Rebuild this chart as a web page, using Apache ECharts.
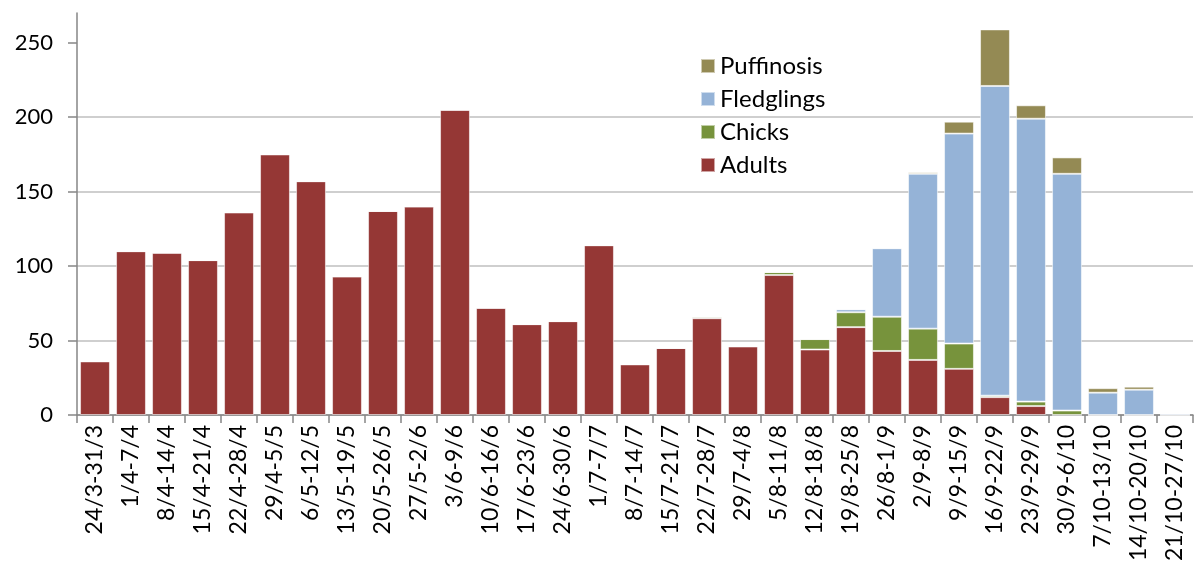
<!DOCTYPE html>
<html>
<head>
<meta charset="utf-8">
<script src="https://cdn.jsdelivr.net/npm/echarts@6/dist/echarts.min.js"></script>
<style>
    html, body { margin: 0; padding: 0; background: #fff; }
    #chart { width: 1195px; height: 565px; }
</style>
</head>
<body>
<div id="chart"></div>
<script>
// weekly periods
const weeks = [
    '24/3-31/3', '1/4-7/4', '8/4-14/4', '15/4-21/4', '22/4-28/4', '29/4-5/5',
    '6/5-12/5', '13/5-19/5', '20/5-26/5', '27/5-2/6', '3/6-9/6', '10/6-16/6',
    '17/6-23/6', '24/6-30/6', '1/7-7/7', '8/7-14/7', '15/7-21/7', '22/7-28/7',
    '29/7-4/8', '5/8-11/8', '12/8-18/8', '19/8-25/8', '26/8-1/9', '2/9-8/9',
    '9/9-15/9', '16/9-22/9', '23/9-29/9', '30/9-6/10', '7/10-13/10',
    '14/10-20/10', '21/10-27/10'
];
const adults = [36, 110, 109, 104, 136, 175, 157, 93, 137, 140, 205, 72, 61, 63, 114, 34,
    45, 65, 46, 94, 44, 59, 43, 37, 31, 12, 6, 0, 0, 0, 0];
const chicks = [0, 0, 0, 0, 0, 0, 0, 0, 0, 0, 0, 0, 0, 0, 0, 0,
    0, 1, 0, 2, 7, 10, 23, 21, 17, 1, 3, 3, 0, 0, 0];
const fledglings = [0, 0, 0, 0, 0, 0, 0, 0, 0, 0, 0, 0, 0, 0, 0, 0,
    0, 0, 0, 0, 0, 2, 46, 104, 141, 208, 190, 159, 15, 17, 1];
const puffinosis = [0, 0, 0, 0, 0, 0, 0, 0, 0, 0, 0, 0, 0, 0, 0, 0,
    0, 0, 0, 0, 0, 0, 0, 1, 8, 38, 9, 11, 3, 2, 0];
const yTicks = [0, 50, 100, 150, 200, 250];

const font = 'Lato, "Open Sans", sans-serif';

function barSeries(name, data, color) {
    return {
        name: name,
        type: 'bar',
        stack: 'total',
        data: data,
        barCategoryGap: '17%',
        itemStyle: {
            color: color,
            borderColor: 'rgba(255,255,255,0.55)',
            borderWidth: 1
        }
    };
}

const chart = echarts.init(document.getElementById('chart'));
chart.setOption({
    animation: false,
    backgroundColor: '#fff',
    textStyle: { fontFamily: font },
    grid: {
        left: 77, right: 2, top: 13, bottom: 150,
        containLabel: false,
        outerBoundsMode: 'none'
    },
    legend: {
        orient: 'vertical',
        left: 695,
        top: 49,
        itemWidth: 14,
        itemHeight: 14,
        itemGap: 9,
        icon: 'rect',
        data: ['Puffinosis', 'Fledglings', 'Chicks', 'Adults'],
        textStyle: { fontFamily: font, fontSize: 24, color: '#000' }
    },
    xAxis: {
        type: 'category',
        data: weeks,
        axisLine: { lineStyle: { color: '#868686', width: 1.5 } },
        axisTick: { show: true, alignWithLabel: false, length: 8, lineStyle: { color: '#868686', width: 1.5 } },
        axisLabel: {
            rotate: 90,
            interval: 0,
            margin: 10,
            fontFamily: font,
            fontSize: 23,
            color: '#000'
        }
    },
    yAxis: {
        type: 'value',
        min: 0,
        max: 270,
        interval: 50,
        axisLine: { show: true, lineStyle: { color: '#868686', width: 1.5 } },
        axisTick: { show: true, length: 9, customValues: yTicks, lineStyle: { color: '#868686', width: 1.5 } },
        axisLabel: {
            customValues: yTicks,
            margin: 24,
            fontFamily: font,
            fontSize: 22,
            color: '#000'
        },
        splitLine: { show: true, showMaxLine: false, lineStyle: { color: '#bfbfbf', width: 1.5 } }
    },
    series: [
        barSeries('Adults', adults, '#953735'),
        barSeries('Chicks', chicks, '#77933C'),
        barSeries('Fledglings', fledglings, '#95B3D7'),
        barSeries('Puffinosis', puffinosis, '#948A54')
    ]
});
</script>
</body>
</html>
